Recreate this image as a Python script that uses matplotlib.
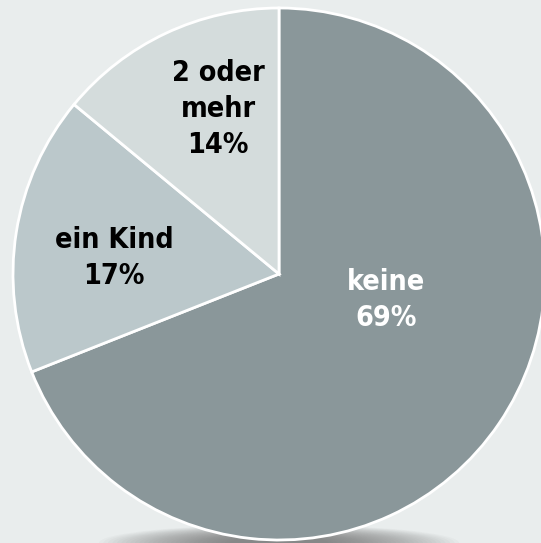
import matplotlib.pyplot as plt
from matplotlib.patches import Ellipse

# Data
labels = ['keine', 'ein Kind', '2 oder\nmehr']
shares = [69, 17, 14]
colors = ['#8a979a', '#bbc8cb', '#d4dcdc']
text_colors = ['white', 'black', 'black']

# label centres in pixel coords (y measured from top)
label_pos = [(386, 300), (114, 258), (218, 109)]

W, H = 541, 543
fig = plt.figure(figsize=(W / 100, H / 100), dpi=100)
fig.patch.set_facecolor('#e9eded')
ax = fig.add_axes([0, 0, 1, 1])

cx, cy, r = 279, H - 274, 266

# soft shadow under the pie
n = 30
for i in range(n):
    w = 360 - i * 9
    h = 36 - i * 0.8
    ax.add_patch(Ellipse((cx, 0), w, h, color='#606060', alpha=0.035, lw=0, zorder=1))

wedges, _ = ax.pie(shares, colors=colors, startangle=90, counterclock=False,
                   center=(cx, cy), radius=r, frame=True,
                   wedgeprops=dict(edgecolor='white', linewidth=2))
for w in wedges:
    w.set_zorder(2)
ax.set_xlim(0, W)
ax.set_ylim(0, H)
ax.set_aspect('equal')
ax.axis('off')

for lab, val, tc, (x, y) in zip(labels, shares, text_colors, label_pos):
    ax.text(x, H - y, f'{lab}\n{val}%', ha='center', va='center', color=tc,
            fontsize=20.5, fontweight='bold', family='DejaVu Sans', fontstretch='condensed',
            linespacing=1.38, zorder=3)

fig.savefig('out.png', dpi=100, facecolor=fig.get_facecolor())
